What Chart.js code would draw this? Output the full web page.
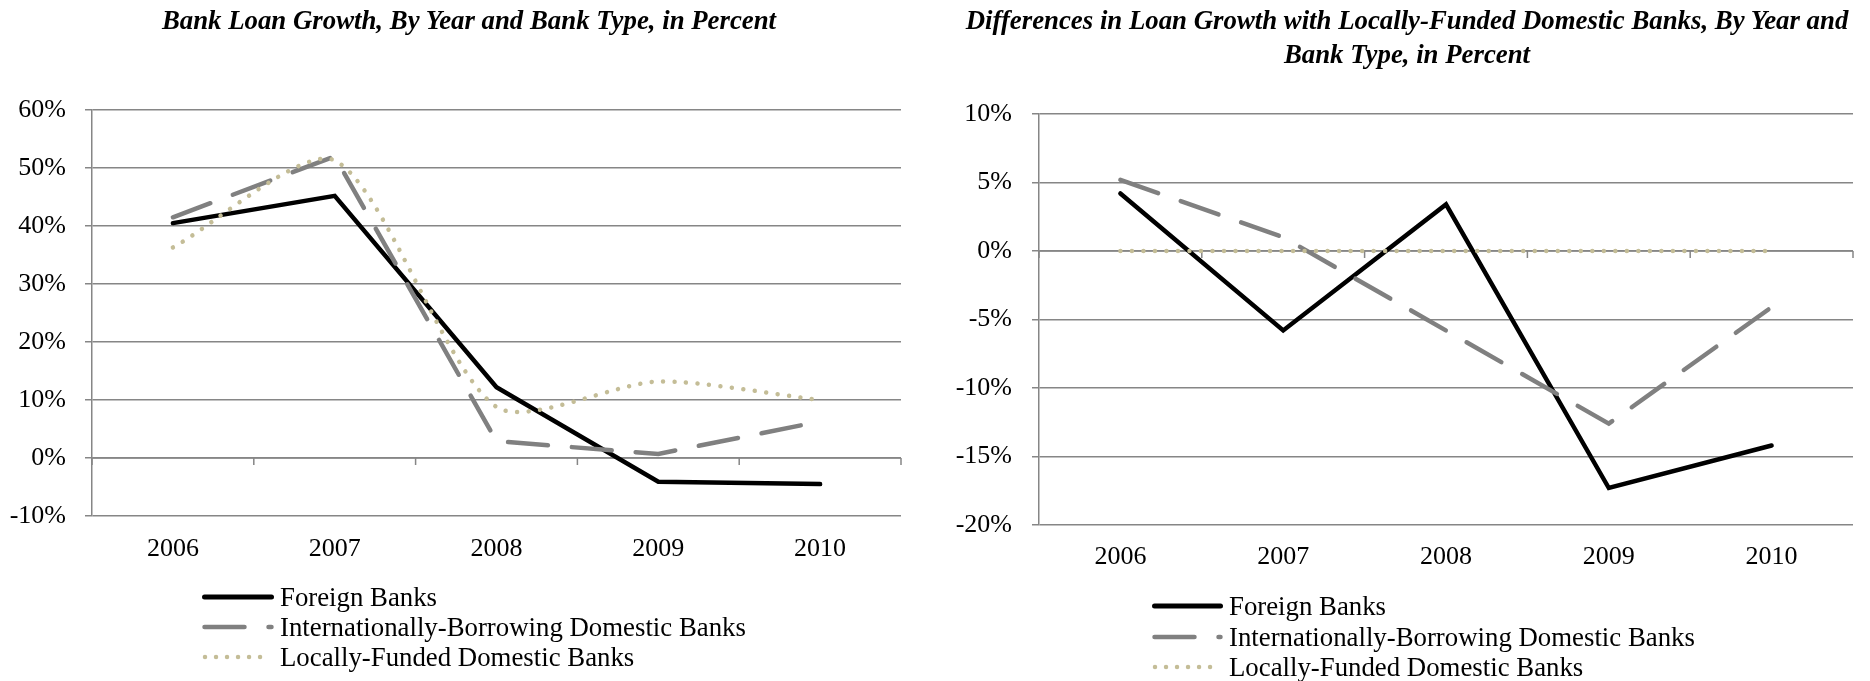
<!DOCTYPE html>
<html>
<head>
<meta charset="utf-8">
<script src="https://cdn.jsdelivr.net/npm/chart.js@4/dist/chart.umd.min.js"></script>
<style>
  html, body { margin: 0; padding: 0; background: #fff; }
  #wrap { position: relative; width: 1870px; height: 681px; overflow: hidden; font-family: 'Liberation Serif', 'Times New Roman', serif; }
  .cv { position: absolute; top: 0; }
  .title { position: absolute; top: 3px; font-size: 26.8px; font-weight: bold; font-style: italic; line-height: 34px; text-align: center; color: #000; white-space: nowrap; transform: translateX(-50%); }
  .lg-row { position: absolute; height: 30px; display: flex; align-items: center; white-space: nowrap; font-size: 26.8px; color: #000; line-height: 30px; }
  .lg-row svg { display: block; margin-right: 6px; }
</style>
</head>
<body>
<div id="wrap">
  <canvas id="left" class="cv" width="935" height="681" style="left:0px"></canvas>
  <canvas id="right" class="cv" width="926" height="681" style="left:944px"></canvas>
  <div id="titleL" class="title" style="left:469px"></div>
  <div id="titleR" class="title" style="left:1407px"></div>
</div>
<script>
// ---------- DATA ----------
const years = ['2006', '2007', '2008', '2009', '2010'];
const seriesNames = ['Foreign Banks', 'Internationally-Borrowing Domestic Banks', 'Locally-Funded Domestic Banks'];

// Left chart: loan growth, percent
const growthForeign = [40.5, 45.2, 12.2, -4.1, -4.5];
const growthIntl    = [41.5, 52.0, 2.9, 0.7, 6.3];
const growthLocal   = [36.3, 51.3, 8.8, 13.2, 10.0];

// Right chart: differences vs locally-funded domestic banks, percent
const diffForeign = [4.2, -5.8, 3.4, -17.3, -14.2];
const diffIntl    = [5.2, 1.0, -5.8, -12.6, -4.1];
const diffLocal   = [0, 0, 0, 0, 0];

const leftTicks  = { min: -10, max: 60, step: 10 };
const rightTicks = { min: -20, max: 10, step: 5 };

const titleLeft  = ['Bank Loan Growth, By Year and Bank Type, in Percent'];
const titleRight = ['Differences in Loan Growth with Locally-Funded Domestic Banks, By Year and', 'Bank Type, in Percent'];

// ---------- STYLES ----------
const FONT = "'Liberation Serif', 'Times New Roman', serif";
const GRID = '#868686';
const styles = [
  { color: '#000000', width: 4.5, dash: [], cap: 'round', order: 3 },
  { color: '#808080', width: 4.5, dash: [40, 24], cap: 'round', order: 2 },
  { color: '#C4BD97', width: 4.5, dash: [0.01, 11.5], cap: 'round', order: 1 }
];

Chart.defaults.font.family = FONT;

const zeroAxis = {
  id: 'zeroAxis',
  beforeDatasetsDraw(chart) {
    const { ctx, chartArea, scales } = chart;
    const x = scales.x, y = scales.y;
    const y0 = y.getPixelForValue(0);
    const n = x.ticks.length;
    const w = (chartArea.right - chartArea.left) / n;
    ctx.save();
    ctx.strokeStyle = GRID;
    ctx.lineWidth = 1.5;
    ctx.beginPath();
    ctx.moveTo(chartArea.left, y0);
    ctx.lineTo(chartArea.right, y0);
    for (let i = 0; i <= n; i++) {
      const px = i < n ? x.getPixelForValue(i) - w / 2 : x.getPixelForValue(n - 1) + w / 2;
      ctx.moveTo(px, y0);
      ctx.lineTo(px, y0 + 7);
    }
    ctx.stroke();
    ctx.restore();
  }
};

function makeDatasets(arrs, smoothIdx) {
  return arrs.map((d, i) => ({
    label: seriesNames[i],
    data: d,
    borderColor: styles[i].color,
    backgroundColor: styles[i].color,
    borderWidth: styles[i].width,
    borderDash: styles[i].dash,
    borderCapStyle: styles[i].cap,
    borderJoinStyle: 'miter',
    pointRadius: 0,
    pointHoverRadius: 0,
    fill: false,
    tension: (smoothIdx === i) ? 0.25 : 0,
    order: styles[i].order
  }));
}

function makeChart(id, opts) {
  return new Chart(document.getElementById(id), {
    type: 'line',
    data: { labels: years, datasets: makeDatasets(opts.data, opts.smoothIdx) },
    plugins: [zeroAxis],
    options: {
      responsive: false,
      animation: false,
      devicePixelRatio: 1,
      layout: { padding: { left: 0, right: opts.padRight, top: opts.padTop, bottom: 0 } },
      plugins: {
        legend: { display: false },
        tooltip: { enabled: false },
        title: { display: false }
      },
      scales: {
        x: {
          type: 'category',
          offset: true,
          grid: { display: false, drawTicks: false },
          border: { display: false },
          ticks: { color: '#000', font: { family: FONT, size: 26 }, padding: opts.xPad, maxRotation: 0, autoSkip: false },
          afterFit: (s) => { s.height = opts.xHeight; }
        },
        y: {
          min: opts.ticks.min,
          max: opts.ticks.max,
          grid: { color: GRID, lineWidth: 1.5, drawTicks: true, tickLength: 7 },
          border: { display: true, color: GRID, width: 1.5 },
          ticks: {
            stepSize: opts.ticks.step,
            color: '#000',
            font: { family: FONT, size: 26 },
            padding: opts.yPad,
            callback: (v) => v + '%'
          },
          afterFit: (s) => { s.width = opts.yWidth; }
        }
      }
    }
  });
}

const leftChart = makeChart('left', {
  data: [growthForeign, growthIntl, growthLocal],
  smoothIdx: 2,
  padTop: 110,
  padRight: 34,
  xHeight: 165,
  xPad: 18,
  yWidth: 92,
  yPad: 19,
  ticks: leftTicks
});

const rightChart = makeChart('right', {
  data: [diffForeign, diffIntl, diffLocal],
  smoothIdx: -1,
  padTop: 114,
  padRight: 17,
  xHeight: 156,
  xPad: 17,
  yWidth: 95,
  yPad: 20,
  ticks: rightTicks
});

// ---------- HTML TITLES ----------
function setTitle(id, lines) {
  const el = document.getElementById(id);
  lines.forEach((t, i) => {
    if (i) el.appendChild(document.createElement('br'));
    el.appendChild(document.createTextNode(t));
  });
}
setTitle('titleL', titleLeft);
setTitle('titleR', titleRight);

// ---------- HTML LEGENDS ----------
function buildLegend(chart, x0, sampleW, centers) {
  const wrap = document.getElementById('wrap');
  chart.data.datasets.forEach((ds, i) => {
    const row = document.createElement('div');
    row.className = 'lg-row';
    row.style.left = x0 + 'px';
    row.style.top = (centers[i] - 15) + 'px';
    const ns = 'http://www.w3.org/2000/svg';
    const svg = document.createElementNS(ns, 'svg');
    svg.setAttribute('width', sampleW);
    svg.setAttribute('height', 30);
    const ln = document.createElementNS(ns, 'line');
    const inset = (i === 2) ? 3 : 2.5;
    ln.setAttribute('x1', inset);
    ln.setAttribute('x2', sampleW - inset);
    ln.setAttribute('y1', 15);
    ln.setAttribute('y2', 15);
    ln.setAttribute('stroke', ds.borderColor);
    ln.setAttribute('stroke-width', i === 0 ? 5 : ds.borderWidth);
    ln.setAttribute('stroke-linecap', 'round');
    if (ds.borderDash && ds.borderDash.length) {
      ln.setAttribute('stroke-dasharray', i === 2 ? '0.01 11' : ds.borderDash.join(' '));
    }
    svg.appendChild(ln);
    row.appendChild(svg);
    const span = document.createElement('span');
    span.textContent = ds.label;
    row.appendChild(span);
    wrap.appendChild(row);
  });
}

buildLegend(leftChart, 202, 72, [597, 627, 657]);
buildLegend(rightChart, 1152, 71, [606, 637, 667]);
</script>
</body>
</html>
